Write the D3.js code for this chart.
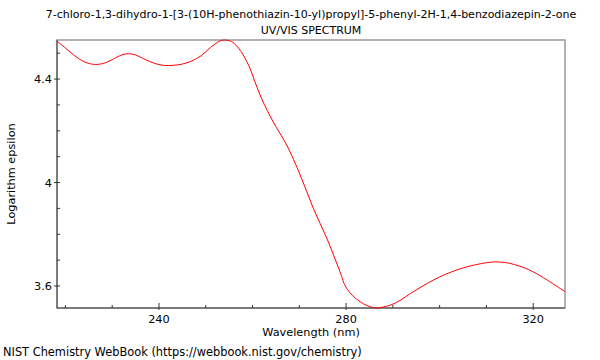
<!DOCTYPE html>
<html>
<head>
<meta charset="utf-8">
<script src="https://cdn.jsdelivr.net/npm/d3@7"></script>
<style>
body{margin:0;background:#fff;}
svg{display:block;}
text{font-family:"DejaVu Sans",sans-serif;fill:#000;}
</style>
</head>
<body>
<svg id="chart" width="600" height="360"></svg>
<script>
const titleLines = ["7-chloro-1,3-dihydro-1-[3-(10H-phenothiazin-10-yl)propyl]-5-phenyl-2H-1,4-benzodiazepin-2-one", "UV/VIS SPECTRUM"];
const xLabel = "Wavelength (nm)";
const yLabel = "Logarithm epsilon";
const footer = "NIST Chemistry WebBook (https://webbook.nist.gov/chemistry)";
const wavelength = [218.2,220,222,224,226,228,230,232,233.5,235,237,239,241,243,245,247,249,251,253,254,255.5,257,258,259.5,260.5,262,264.4,267.3,270.2,273,275.9,278.7,280.1,283,286,288,290.5,295,300,305,310,312,314,316,318,320,323,326.8];
const logEps = [4.547,4.52,4.49,4.467,4.457,4.460,4.475,4.493,4.498,4.493,4.476,4.461,4.453,4.453,4.458,4.470,4.490,4.522,4.547,4.551,4.545,4.52,4.493,4.44,4.390,4.322,4.235,4.145,4.029,3.90,3.784,3.655,3.591,3.539,3.516,3.519,3.534,3.585,3.635,3.670,3.690,3.693,3.691,3.683,3.671,3.655,3.623,3.578];
const xMajor = [240,280,320];
const xMinor = [220,230,250,260,270,290,300,310];
const yMajor = [3.6,4,4.4];
const yMinor = [3.7,3.8,3.9,4.1,4.2,4.3,4.5];

const svg = d3.select("#chart");
const L=57,R=565,T=40,B=308;
const x = d3.scaleLinear().domain([218.2,326.8]).range([L,R]);
const y = d3.scaleLinear().domain([3.515,4.551]).range([B,T]);

svg.selectAll("text.title").data(titleLines).join("text")
  .attr("x",311).attr("y",(d,i)=>18+i*16).attr("text-anchor","middle")
  .attr("font-size",11).text(d=>d);

// frame
svg.append("rect").attr("x",L).attr("y",T).attr("width",R-L).attr("height",B-T)
  .attr("fill","none").attr("stroke","#999").attr("stroke-width",1.5);
svg.append("line").attr("x1",L).attr("x2",L).attr("y1",T).attr("y2",B).attr("stroke","#444");
svg.append("line").attr("x1",L).attr("x2",R).attr("y1",B).attr("y2",B).attr("stroke","#444");

// ticks
svg.selectAll("line.xmaj").data(xMajor).join("line")
  .attr("x1",d=>x(d)).attr("x2",d=>x(d)).attr("y1",B+2).attr("y2",B-5).attr("stroke","#333");
svg.selectAll("line.xmin").data(xMinor).join("line")
  .attr("x1",d=>x(d)).attr("x2",d=>x(d)).attr("y1",B).attr("y2",B-3).attr("stroke","#333");
svg.selectAll("line.ymaj").data(yMajor).join("line")
  .attr("x1",L-3).attr("x2",L+3).attr("y1",d=>y(d)).attr("y2",d=>y(d)).attr("stroke","#333");
svg.selectAll("line.ymin").data(yMinor).join("line")
  .attr("x1",L).attr("x2",L+3).attr("y1",d=>y(d)).attr("y2",d=>y(d)).attr("stroke","#333");

svg.selectAll("text.xt").data(xMajor).join("text")
  .attr("x",d=>x(d)).attr("y",B+15).attr("text-anchor","middle").attr("font-size",11.3).text(d=>d);
svg.selectAll("text.yt").data(yMajor).join("text")
  .attr("x",L-5).attr("y",d=>y(d)+4).attr("text-anchor","end").attr("font-size",11.3).text(d=>d);

svg.append("text").attr("x",311).attr("y",336).attr("text-anchor","middle").attr("font-size",11.3).text(xLabel);
svg.append("text").attr("transform","translate(15,174) rotate(-90)").attr("text-anchor","middle").attr("font-size",11.3).text(yLabel);
svg.append("text").attr("x",3).attr("y",356).attr("font-size",11.4).text(footer);

const line = d3.line().x(d=>x(d[0])).y(d=>y(d[1])).curve(d3.curveCatmullRom);
svg.append("path").datum(wavelength.map((w,i)=>[w,logEps[i]]))
  .attr("d",line).attr("fill","none").attr("stroke","#ff0000").attr("stroke-width",1);
</script>
</body>
</html>
